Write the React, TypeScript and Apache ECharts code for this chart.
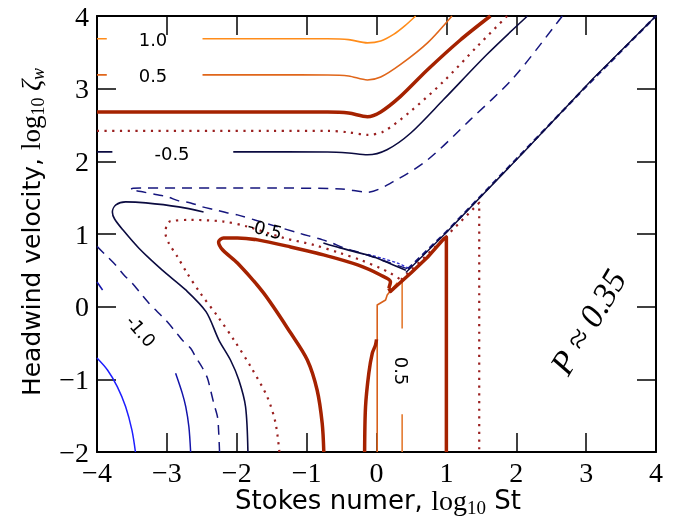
import React, { useEffect, useRef } from "react";
import * as echarts from "echarts";

// axis ticks
const xTicks = [-4, -3, -2, -1, 0, 1, 2, 3, 4];
const yTicks = [-2, -1, 0, 1, 2, 3, 4];

// contour level 1.0
const lev1p0Stub = [[-4, 3.687], [-3.86, 3.687]];
const lev1p0 = [[-2.49, 3.687], [-1.5, 3.687], [-0.7, 3.686], [-0.4, 3.675], [-0.13, 3.63], [0.06, 3.655], [0.25, 3.75], [0.4, 3.86], [0.56, 4.0]];
// contour level 0.5
const lev0p5Stub = [[-4, 3.19], [-3.86, 3.19]];
const lev0p5 = [[-2.49, 3.19], [-1.5, 3.19], [-0.7, 3.189], [-0.4, 3.175], [-0.13, 3.12], [0.06, 3.16], [0.34, 3.33], [0.73, 3.63], [1.08, 4.0]];
const lev0p5Left = [[0.01, -2.0], [0.01, 0.023], [0.13, 0.092], [0.153, 0.161], [0.247, 0.275], [0.3, 0.33]];
const lev0p5RightA = [[0.367, 0.37], [0.367, -0.3]];
const lev0p5RightB = [[0.367, -1.48], [0.367, -2.0]];
// contour level 0
const lev0Upper = [[-4, 2.68], [-1.5, 2.68], [-0.7, 2.679], [-0.4, 2.665], [-0.13, 2.615], [0.06, 2.68], [0.34, 2.89], [0.73, 3.26], [1.2, 3.67], [1.63, 4.0]];
const lev0Loop = [[-0.754, -2.0], [-0.777, -1.606], [-0.85, -1.147], [-0.99, -0.734], [-1.23, -0.36], [-1.617, 0.189], [-1.99, 0.6], [-2.2, 0.78], [-2.26, 0.891], [-2.19, 0.946], [-1.99, 0.946], [-1.7, 0.919], [-1.23, 0.822], [-0.758, 0.712], [-0.27, 0.574], [0.057, 0.436], [0.2, 0.344], [0.176, 0.253]];
const lev0Diag = [[0.176, 0.253], [0.2, 0.21], [0.27, 0.27], [0.5, 0.47], [0.73, 0.68], [0.96, 0.93], [1.0, 0.955], [1.0, -2.0]];
const lev0Inner = [[-0.17, -2.0], [-0.157, -1.38], [-0.11, -0.917], [-0.06, -0.64], [-0.014, -0.527], [0.0, -0.45]];
// contour level -0.25
const levM0p25Upper = [[-4, 2.42], [-1.5, 2.42], [-0.7, 2.419], [-0.4, 2.4], [-0.13, 2.365], [0.1, 2.41], [0.49, 2.69], [0.96, 3.1], [1.44, 3.58], [1.87, 4.0]];
const levM0p25Loop = [[-1.39, -2.0], [-1.445, -1.6], [-1.564, -1.24], [-1.8, -0.826], [-2.04, -0.459], [-2.27, -0.138], [-2.52, 0.185], [-2.71, 0.46], [-2.85, 0.689], [-2.97, 0.87], [-3.02, 1.01], [-3.0, 1.13], [-2.95, 1.175], [-2.66, 1.194], [-2.19, 1.171], [-1.85, 1.102], [-1.33, 0.946], [-0.9, 0.85], [-0.515, 0.736], [-0.23, 0.643], [0.057, 0.529], [0.2, 0.46], [0.35, 0.37]];
const levM0p25Diag = [[0.35, 0.37], [1.0, 0.97], [1.47, 1.43], [1.47, -2.0]];
// contour level -0.5
const levM0p5Stub = [[-4, 2.13], [-3.78, 2.13]];
const levM0p5Upper = [[-2.05, 2.13], [-0.7, 2.129], [-0.4, 2.115], [-0.13, 2.09], [0.15, 2.16], [0.49, 2.39], [0.96, 2.85], [1.58, 3.47], [2.16, 4.0]];
const levM0p5Loop = [[-2.475, 1.304], [-2.83, 1.373], [-3.3, 1.428], [-3.59, 1.442], [-3.73, 1.4], [-3.78, 1.304], [-3.75, 1.21], [-3.63, 1.057], [-3.4, 0.804], [-3.07, 0.506], [-2.73, 0.23], [-2.44, -0.069], [-2.256, -0.459], [-2.09, -0.734], [-1.97, -1.01], [-1.874, -1.377], [-1.84, -2.0]];
const levM0p5Right = [[-0.76, 0.877], [-0.52, 0.809], [-0.04, 0.685], [0.24, 0.574], [0.42, 0.5]];
const levM0p5Diag = [[0.42, 0.47], [1.0, 1.02], [2.16, 2.18], [3.1, 3.14], [4.0, 4.0]];
// contour level -0.75
const levM0p75Hairpin = [[2.66, 4.0], [2.58, 3.9], [1.96, 3.15], [1.34, 2.57], [0.73, 2.02], [0.24, 1.72], [-0.13, 1.575], [-0.5, 1.62], [-1.5, 1.632], [-3.38, 1.632], [-3.48, 1.628], [-3.52, 1.615], [-3.47, 1.6], [-3.35, 1.58], [-3.16, 1.543], [-2.99, 1.511], [-2.83, 1.456], [-2.66, 1.428], [-2.49, 1.373], [-2.33, 1.336], [-2.13, 1.29], [-1.99, 1.263], [-1.55, 1.137], [-1.12, 1.015], [-0.97, 0.974], [-0.77, 0.919], [-0.63, 0.873], [-0.47, 0.809], [-0.33, 0.77], [-0.1, 0.7], [0.2, 0.6], [0.45, 0.52]];
const levM0p75Diag = [[0.45, 0.52], [1.0, 1.03], [2.0, 2.03], [3.0, 3.03], [4.0, 4.0]];
const levM0p75Left = [[-4, 0.83], [-3.853, 0.689], [-3.734, 0.574], [-3.615, 0.437], [-3.495, 0.322], [-3.376, 0.185], [-3.257, 0.047], [-3.137, -0.069], [-3.019, -0.183], [-2.876, -0.344], [-2.78, -0.459], [-2.66, -0.573], [-2.59, -0.689], [-2.49, -0.844], [-2.42, -0.982], [-2.375, -1.147], [-2.33, -1.326], [-2.275, -1.519], [-2.26, -1.7], [-2.246, -2.0]];
// contour level -1.0
const levM1p0Stub = [[-4, 0.34], [-3.92, 0.23]];
const levM1p0 = [[-2.875, -0.917], [-2.78, -1.19], [-2.73, -1.377], [-2.685, -1.653], [-2.66, -2.0]];
const levM1p0Cusp = [[-0.12, 0.72], [0.1, 0.66], [0.3, 0.6], [0.46, 0.53]];
// contour level -1.5
const levM1p5 = [[-4, -0.707], [-3.85, -0.872], [-3.71, -1.1], [-3.59, -1.377], [-3.5, -1.7], [-3.45, -2.0]];

const C_10 = "#ff8c1a";
const C_05 = "#e0661a";
const C_00 = "#a52200";
const C_M025 = "#9a2020";
const C_M05 = "#0b0b40";
const C_M075 = "#16167e";
const C_M10 = "#1414aa";
const C_M15 = "#1e1eff";

function ln(data: number[][], color: string, width: number, type: any = "solid", smooth: number | boolean = 0.3, z = 2) {
  return {
    type: "line",
    data,
    symbol: "none",
    showSymbol: false,
    smooth,
    silent: true,
    z,
    lineStyle: { color, width, type, cap: "butt", join: "round" },
  };
}

const minus = (v: number) => (v < 0 ? "\u2212" + Math.abs(v) : String(v));
const tickFont = '"Liberation Serif", "DejaVu Serif", serif';
const sans = '"DejaVu Sans", sans-serif';

function axisX(pos: string, labels: boolean) {
  return {
    type: "value", min: xTicks[0], max: xTicks[xTicks.length - 1], interval: 1, position: pos,
    axisLine: { show: true, onZero: false, lineStyle: { color: "#000", width: 2 } },
    axisTick: { show: true, inside: true, length: 19, lineStyle: { color: "#000", width: 1.5 } },
    axisLabel: { show: labels, formatter: minus, color: "#000", fontFamily: tickFont, fontSize: 28, margin: 6 },
    splitLine: { show: false },
  };
}
function axisY(pos: string, labels: boolean) {
  return {
    type: "value", min: yTicks[0], max: yTicks[yTicks.length - 1], interval: 1, position: pos,
    axisLine: { show: true, onZero: false, lineStyle: { color: "#000", width: 2 } },
    axisTick: { show: true, inside: true, length: 19, lineStyle: { color: "#000", width: 1.5 } },
    axisLabel: { show: labels, formatter: minus, color: "#000", fontFamily: tickFont, fontSize: 28, margin: 8 },
    splitLine: { show: false },
  };
}

const lbl = (text: string, x: number, y: number, rotation = 0) => ({
  type: "text", x, y, rotation, z: 100,
  style: { text, fill: "#000", font: `18px ${sans}`, align: "center", verticalAlign: "middle" },
});

export default function App() {
  const ref = useRef<HTMLDivElement>(null);
  useEffect(() => {
    const chart = echarts.init(ref.current!, null, { renderer: "svg" });
    const richX = {
      s: { fontFamily: sans, fontSize: 26, fill: "#000" },
      m: { fontFamily: tickFont, fontSize: 28, fill: "#000" },
      b: { fontFamily: tickFont, fontSize: 19, padding: [14, 0, 0, 0], fill: "#000" },
    };
    const richY = {
      s: { fontFamily: sans, fontSize: 25, fill: "#000" },
      m: { fontFamily: tickFont, fontSize: 27, fill: "#000" },
      b: { fontFamily: tickFont, fontSize: 18, padding: [13, 0, 0, 0], fill: "#000" },
      z: { fontFamily: tickFont, fontSize: 27, fontStyle: "italic", fill: "#000" },
      w: { fontFamily: tickFont, fontSize: 18, fontStyle: "italic", padding: [13, 0, 0, 0], fill: "#000" },
    };
    chart.setOption({
      animation: false,
      grid: { left: 97, right: 24, top: 16, bottom: 68, containLabel: false },
      xAxis: [axisX("bottom", true), axisX("top", false)],
      yAxis: [axisY("left", true), axisY("right", false)],
      series: [
        ln(levM1p5, C_M15, 1.5),
        ln(levM1p0Stub, C_M10, 1.5, "solid", false),
        ln(levM1p0, C_M10, 1.5),
        ln(levM1p0Cusp, "#2a2ad0", 1.3, [3, 2], 0.3),
        ln(levM0p75Left, C_M075, 1.5, [10, 7]),
        ln(levM0p75Hairpin, C_M075, 1.5, [10, 7], 0.3),
        ln(levM0p75Diag, C_M075, 2.2, [6, 4], false),
        ln(levM0p5Stub, C_M05, 1.6, "solid", false),
        ln(levM0p5Upper, C_M05, 1.6),
        ln(levM0p5Loop, C_M05, 1.6),
        ln(levM0p5Right, C_M05, 1.6),
        ln(levM0p5Diag, C_M05, 1.4, "solid", false),
        ln(levM0p25Upper, C_M025, 2.2, [2.2, 5.5]),
        ln(levM0p25Loop, C_M025, 2.2, [2.2, 5.5]),
        ln(levM0p25Diag, C_M025, 2.2, [2.2, 5.5], false),
        ln(lev0p5Left, "#d8601a", 1.6, "solid", false),
        ln(lev0p5RightA, "#e47a30", 1.6, "solid", false),
        ln(lev0p5RightB, "#e47a30", 1.6, "solid", false),
        ln(lev0Inner, C_00, 3.5),
        ln(lev0Loop, C_00, 3.5),
        ln(lev0Diag, C_00, 3.5, "solid", false),
        ln(lev0Upper, C_00, 3.5),
        ln(lev0p5Stub, C_05, 1.6, "solid", false),
        ln(lev0p5, C_05, 1.6),
        ln(lev1p0Stub, C_10, 1.6, "solid", false),
        ln(lev1p0, C_10, 1.6),
      ],
      graphic: [
        lbl("1.0", 153, 39),
        lbl("0.5", 153, 75),
        lbl("-0.5", 172, 153),
        lbl("-0.5", 265, 229, -0.25),
        lbl("-1.0", 141, 331, -0.86),
        lbl("0.5", 401, 371, -Math.PI / 2),
        {
          type: "text", x: 378, y: 500, z: 100,
          style: { text: "{s|Stokes numer, }{m|log}{b|10}{s| St}", rich: richX, align: "center", verticalAlign: "middle", fill: "#000" },
        },
        {
          type: "text", x: 31, y: 232, rotation: Math.PI / 2, z: 100,
          style: { text: "{s|Headwind velocity, }{m|log}{b|10}{m| }{z|\u03B6}{w|w}", rich: richY, align: "center", verticalAlign: "middle", fill: "#000" },
        },
        {
          type: "text", x: 588, y: 322, rotation: 1.03, z: 100,
          style: { text: "P \u2248 0.35", fill: "#000", font: `italic 34px ${tickFont}`, align: "center", verticalAlign: "middle" },
        },
      ],
    });
    return () => chart.dispose();
  }, []);
  return <div ref={ref} style={{ position: "fixed", left: 0, top: 0, width: 680, height: 520 }} />;
}
